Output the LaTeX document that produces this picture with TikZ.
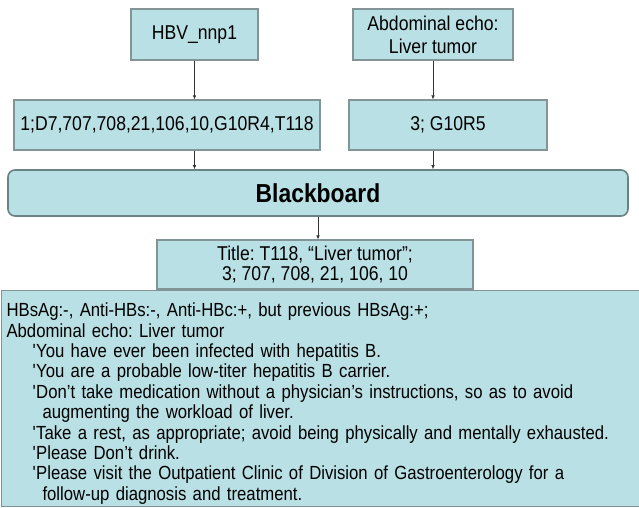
\documentclass[tikz,border=0pt]{standalone}
\usepackage{fontspec}
\setmainfont[FakeStretch=0.88]{Liberation Sans}
\usetikzlibrary{arrows.meta}
\definecolor{boxfill}{RGB}{185,224,228}
\definecolor{boxline}{RGB}{130,148,150}
\definecolor{boardline}{RGB}{105,130,132}
\newcommand{\notemark}{\hspace*{26pt}\textquotesingle}
\newcommand{\notecont}{\hspace*{36pt}}
\frenchspacing
\tikzset{
	box/.style={draw=boxline,fill=boxfill,line width=1.1pt,inner sep=0pt,align=center,font=\fontsize{20}{23}\selectfont},
	arr/.style={-{Latex[length=4pt,width=3.5pt]},line width=0.7pt,black!80}
}
\begin{document}
\begin{tikzpicture}[x=1pt,y=-1pt]
	\useasboundingbox (0,0) rectangle (639,507);
	\node[box,minimum width=127pt,minimum height=51pt] (hbv) at (194.5,34.5) {HBV\_nnp1};
	\node[box,minimum width=160pt,minimum height=51pt] (echo) at (433,34.5) {Abdominal echo:\\Liver tumor};
	\node[box,minimum width=306pt,minimum height=50pt] (seqa) at (167,125) {1;D7,707,708,21,106,10,G10R4,T118};
	\node[box,minimum width=198pt,minimum height=50pt] (seqb) at (448,125) {3; G10R5};
	\node[box,draw=boardline,line width=1.6pt,rounded corners=7pt,minimum width=620pt,minimum height=46pt,font=\bfseries\fontsize{26}{28}\selectfont] (board) at (318,193) {Blackboard};
	\node[box,minimum width=316pt,minimum height=49pt,font=\fontsize{20}{20}\selectfont] (title) at (315,264.5) {Title: T118, ``Liver tumor'';\\3; 707, 708, 21, 106, 10};
	\node[box,anchor=north west,minimum width=636pt,minimum height=216pt,text width=630pt,inner xsep=5pt,align=left,font=\fontsize{19}{20.4}\selectfont] (note) at (1,290) {\rule{0pt}{24pt}HBsAg:-, Anti-HBs:-, Anti-HBc:+, but previous HBsAg:+;\\
		Abdominal echo: Liver tumor\\
		\notemark You have ever been infected with hepatitis B.\\
		\notemark You are a probable low-titer hepatitis B carrier.\\
		\notemark Don't take medication without a physician's instructions, so as to avoid\\
		\notecont augmenting the workload of liver.\\
		\notemark Take a rest, as appropriate; avoid being physically and mentally exhausted.\\
		\notemark Please Don't drink.\\
		\notemark Please visit the Outpatient Clinic of Division of Gastroenterology for a\\
		\notecont follow-up diagnosis and treatment.};
	\draw[arr] (hbv.south) -- (hbv.south |- seqa.north);
	\draw[arr] (echo.south) -- (echo.south |- seqb.north);
	\draw[arr] (hbv.south |- seqa.south) -- (hbv.south |- board.north);
	\draw[arr] (echo.south |- seqb.south) -- (echo.south |- board.north);
	\draw[arr] (board.south) -- (board.south |- title.north);
\end{tikzpicture}
\end{document}
